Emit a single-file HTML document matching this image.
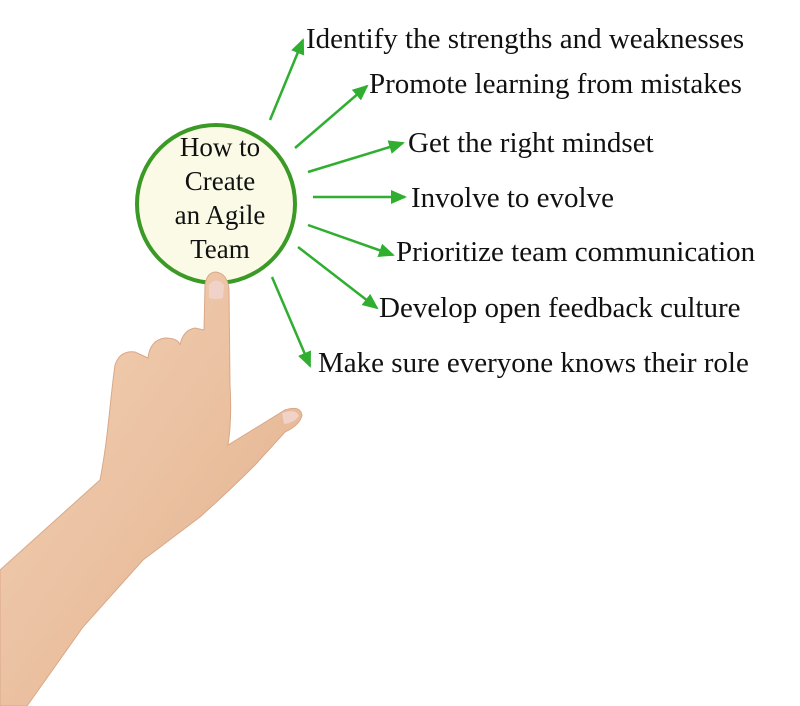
<!DOCTYPE html>
<html><head><style>
body{margin:0;background:#fff;width:800px;height:706px;overflow:hidden;position:relative;font-family:"Liberation Serif",serif}
.t{position:absolute;font-size:29px;color:#111;white-space:nowrap;line-height:1}
</style></head><body>
<svg width="800" height="706" style="position:absolute;left:0;top:0">
<defs>
<marker id="b" markerWidth="16" markerHeight="14" refX="14" refY="7" orient="auto" markerUnits="userSpaceOnUse"><path d="M0,0 L16,7 L0,14 Z" fill="#2fae2f"/></marker>
<linearGradient id="s" x1="0" y1="0" x2="1" y2="1"><stop offset="0" stop-color="#f3d2b6"/><stop offset="1" stop-color="#e2b08c"/></linearGradient>
</defs>
<circle cx="216" cy="204" r="79" fill="#fbfae6" stroke="#3a9a25" stroke-width="4"/>
<g stroke="#2fae2f" stroke-width="2.5" fill="none">
<line x1="270" y1="120" x2="303" y2="40" marker-end="url(#b)"/>
<line x1="295" y1="148" x2="367" y2="86" marker-end="url(#b)"/>
<line x1="308" y1="172" x2="403" y2="143" marker-end="url(#b)"/>
<line x1="313" y1="197" x2="405" y2="197" marker-end="url(#b)"/>
<line x1="308" y1="225" x2="393" y2="255" marker-end="url(#b)"/>
<line x1="298" y1="247" x2="377" y2="308" marker-end="url(#b)"/>
<line x1="272" y1="277" x2="310" y2="366" marker-end="url(#b)"/>
</g>
<path d="M0,570 L100,480 C108,440 110,400 115,365 Q120,350 135,352 L148,358 Q150,340 165,338 Q178,338 180,345 Q183,330 195,328 L204,330 L205,285 Q207,272 216,272 Q228,274 229,290 L230,385 Q232,420 228,445 L285,410 Q300,405 302,415 Q300,425 285,432 L255,465 Q230,490 200,517 L143,560 L83,627 L27,706 L0,706 Z" fill="url(#s)" stroke="#d9a888" stroke-width="1"/>
<path d="M209,285 Q216,276 224,285 L223,298 Q216,300 209,298 Z" fill="#f1d2c8"/>
<path d="M282,413 Q296,408 299,416 Q294,423 284,424 Z" fill="#f1d2c8"/>
</svg>
<div class="t" style="left:160px;top:130px;text-align:center;width:120px;line-height:34px;font-size:27px">How to<br>Create<br>an Agile<br>Team</div>
<div class="t" style="left:306px;top:25px">Identify the strengths and weaknesses</div>
<div class="t" style="left:369px;top:70px">Promote learning from mistakes</div>
<div class="t" style="left:408px;top:129px">Get the right mindset</div>
<div class="t" style="left:411px;top:184px">Involve to evolve</div>
<div class="t" style="left:396px;top:238px">Prioritize team communication</div>
<div class="t" style="left:379px;top:294px">Develop open feedback culture</div>
<div class="t" style="left:318px;top:349px">Make sure everyone knows their role</div>
</body></html>
